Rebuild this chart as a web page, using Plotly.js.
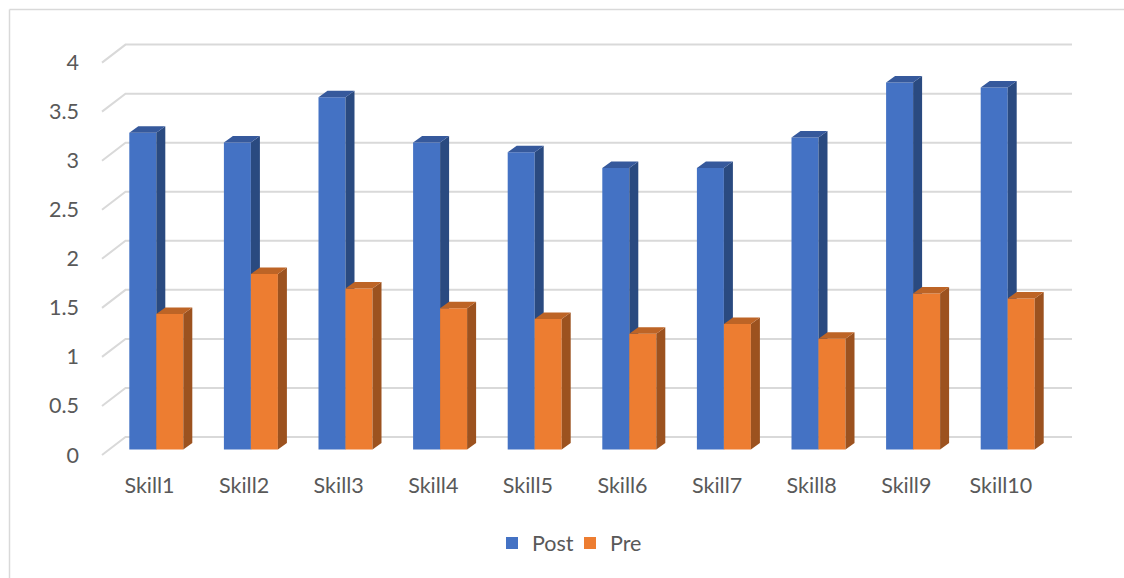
<!DOCTYPE html>
<html>
<head>
<meta charset="utf-8">
<script src="https://cdn.plot.ly/plotly-3.0.1.min.js"></script>
<style>html,body{margin:0;padding:0;background:#fff;overflow:hidden}#chart{width:1124px;height:578px}</style>
</head>
<body>
<div id="chart"></div>
<script>
const categories = ["Skill1","Skill2","Skill3","Skill4","Skill5","Skill6","Skill7","Skill8","Skill9","Skill10"];
const postValues = [3.23,3.13,3.59,3.13,3.03,2.87,2.87,3.18,3.74,3.69];
const preValues = [1.38,1.79,1.64,1.44,1.33,1.18,1.28,1.13,1.59,1.54];
const yTicks = [0,0.5,1,1.5,2,2.5,3,3.5,4];

const W = 1124, H = 578;
const pitch = 94.6, unit = 98.1;
const plotL = 80, plotR = 1110, plotT = 30, plotB = 466;
const labelX0 = 149.5, barX0 = 156.3;
const labelY0 = 455, barY0 = 449.5;
const barW = 27 / pitch, depthX = 9 / pitch, depthY = 6.5 / unit;
const idx = categories.map((_, i) => i);
const domX = [plotL / W, plotR / W], domY = [1 - plotB / H, 1 - plotT / H];
const xRange = c => [(plotL - c) / pitch, (plotR - c) / pitch];
const yRange = c => [(c - plotB) / unit, (c - plotT) / unit];
const font = {family: "Lato, 'Noto Sans', sans-serif", size: 21.5, color: "#595959"};

function polys(list) {
  const xs = [], ys = [];
  list.forEach(p => { p.forEach(q => { xs.push(q[0]); ys.push(q[1]); }); xs.push(p[0][0]); ys.push(p[0][1]); xs.push(null); ys.push(null); });
  return {x: xs, y: ys};
}
function faces(values, l, color, axis) {
  const r = l + barW;
  const side = polys(values.map((v, i) => [[i + r, 0], [i + r + depthX, depthY], [i + r + depthX, v + depthY], [i + r, v]]));
  const top = polys(values.map((v, i) => [[i + l, v], [i + r, v], [i + r + depthX, v + depthY], [i + l + depthX, v + depthY]]));
  const mk = (d, c) => ({type: "scatter", mode: "lines", x: d.x, y: d.y, fill: "toself", fillcolor: c, line: {width: 0, color: c}, showlegend: false, hoverinfo: "skip", xaxis: axis[0], yaxis: axis[1]});
  return [mk(side, color.side), mk(top, color.top)];
}
function gridTrace() {
  const gx = [], gy = [];
  const px = p => (p - labelX0) / pitch;
  yTicks.forEach(v => {
    gx.push(px(102), px(125.5), px(1072), null);
    gy.push(v, v + 18 / unit, v + 18 / unit, null);
  });
  return {type: "scatter", mode: "lines", x: gx, y: gy, line: {color: "#d9d9d9", width: 2}, showlegend: false, hoverinfo: "skip", xaxis: "x", yaxis: "y"};
}

const traces = [
  gridTrace(),
  {type: "bar", name: "Post", x: idx, y: postValues, width: barW, offset: -barW, marker: {color: "#4472c4", line: {width: 0}}, xaxis: "x2", yaxis: "y2"},
  ...faces(postValues, -barW, {side: "#2a4a80", top: "#36599c"}, ["x2", "y2"]),
  {type: "bar", name: "Pre", x: idx, y: preValues, width: barW, offset: 0, marker: {color: "#ed7d31", line: {width: 0}}, xaxis: "x3", yaxis: "y3"},
  ...faces(preValues, 0, {side: "#9c521f", top: "#bd6426"}, ["x3", "y3"])
];

const hiddenX = {domain: domX, range: xRange(barX0), visible: false, type: "linear", overlaying: "x", fixedrange: true};
const hiddenY = {domain: domY, range: yRange(barY0), visible: false, type: "linear", overlaying: "y", fixedrange: true};
const layout = {
  width: W, height: H,
  margin: {l: 0, r: 0, t: 0, b: 0},
  paper_bgcolor: "#fff", plot_bgcolor: "rgba(0,0,0,0)",
  font: font,
  showlegend: true,
  legend: {orientation: "h", x: 570 / W, xanchor: "center", y: 1 - 543 / H, yanchor: "middle", font: font, traceorder: "normal", bgcolor: "rgba(0,0,0,0)", entrywidth: 33, entrywidthmode: "pixels"},
  xaxis: {domain: domX, range: xRange(labelX0), type: "linear", tickmode: "array", tickvals: idx, ticktext: categories, showgrid: false, zeroline: false, showline: false, ticks: "", tickfont: font, ticklabelstandoff: 4, fixedrange: true},
  yaxis: {domain: domY, range: yRange(labelY0), type: "linear", tickmode: "array", tickvals: yTicks, ticktext: yTicks.map(String), showgrid: false, zeroline: false, showline: false, ticks: "", tickfont: font, fixedrange: true},
  xaxis2: Object.assign({}, hiddenX),
  yaxis2: Object.assign({}, hiddenY),
  xaxis3: Object.assign({}, hiddenX),
  yaxis3: Object.assign({}, hiddenY),
  shapes: [
    {type: "line", xref: "paper", yref: "paper", x0: 9.5 / W, x1: 1, y0: 1 - 9.5 / H, y1: 1 - 9.5 / H, line: {color: "#d9d9d9", width: 1.5}},
    {type: "line", xref: "paper", yref: "paper", x0: 9.5 / W, x1: 9.5 / W, y0: 1 - 9.5 / H, y1: 0, line: {color: "#d9d9d9", width: 1.5}}
  ]
};
Plotly.newPlot("chart", traces, layout, {displayModeBar: false, responsive: false});
</script>
</body>
</html>
